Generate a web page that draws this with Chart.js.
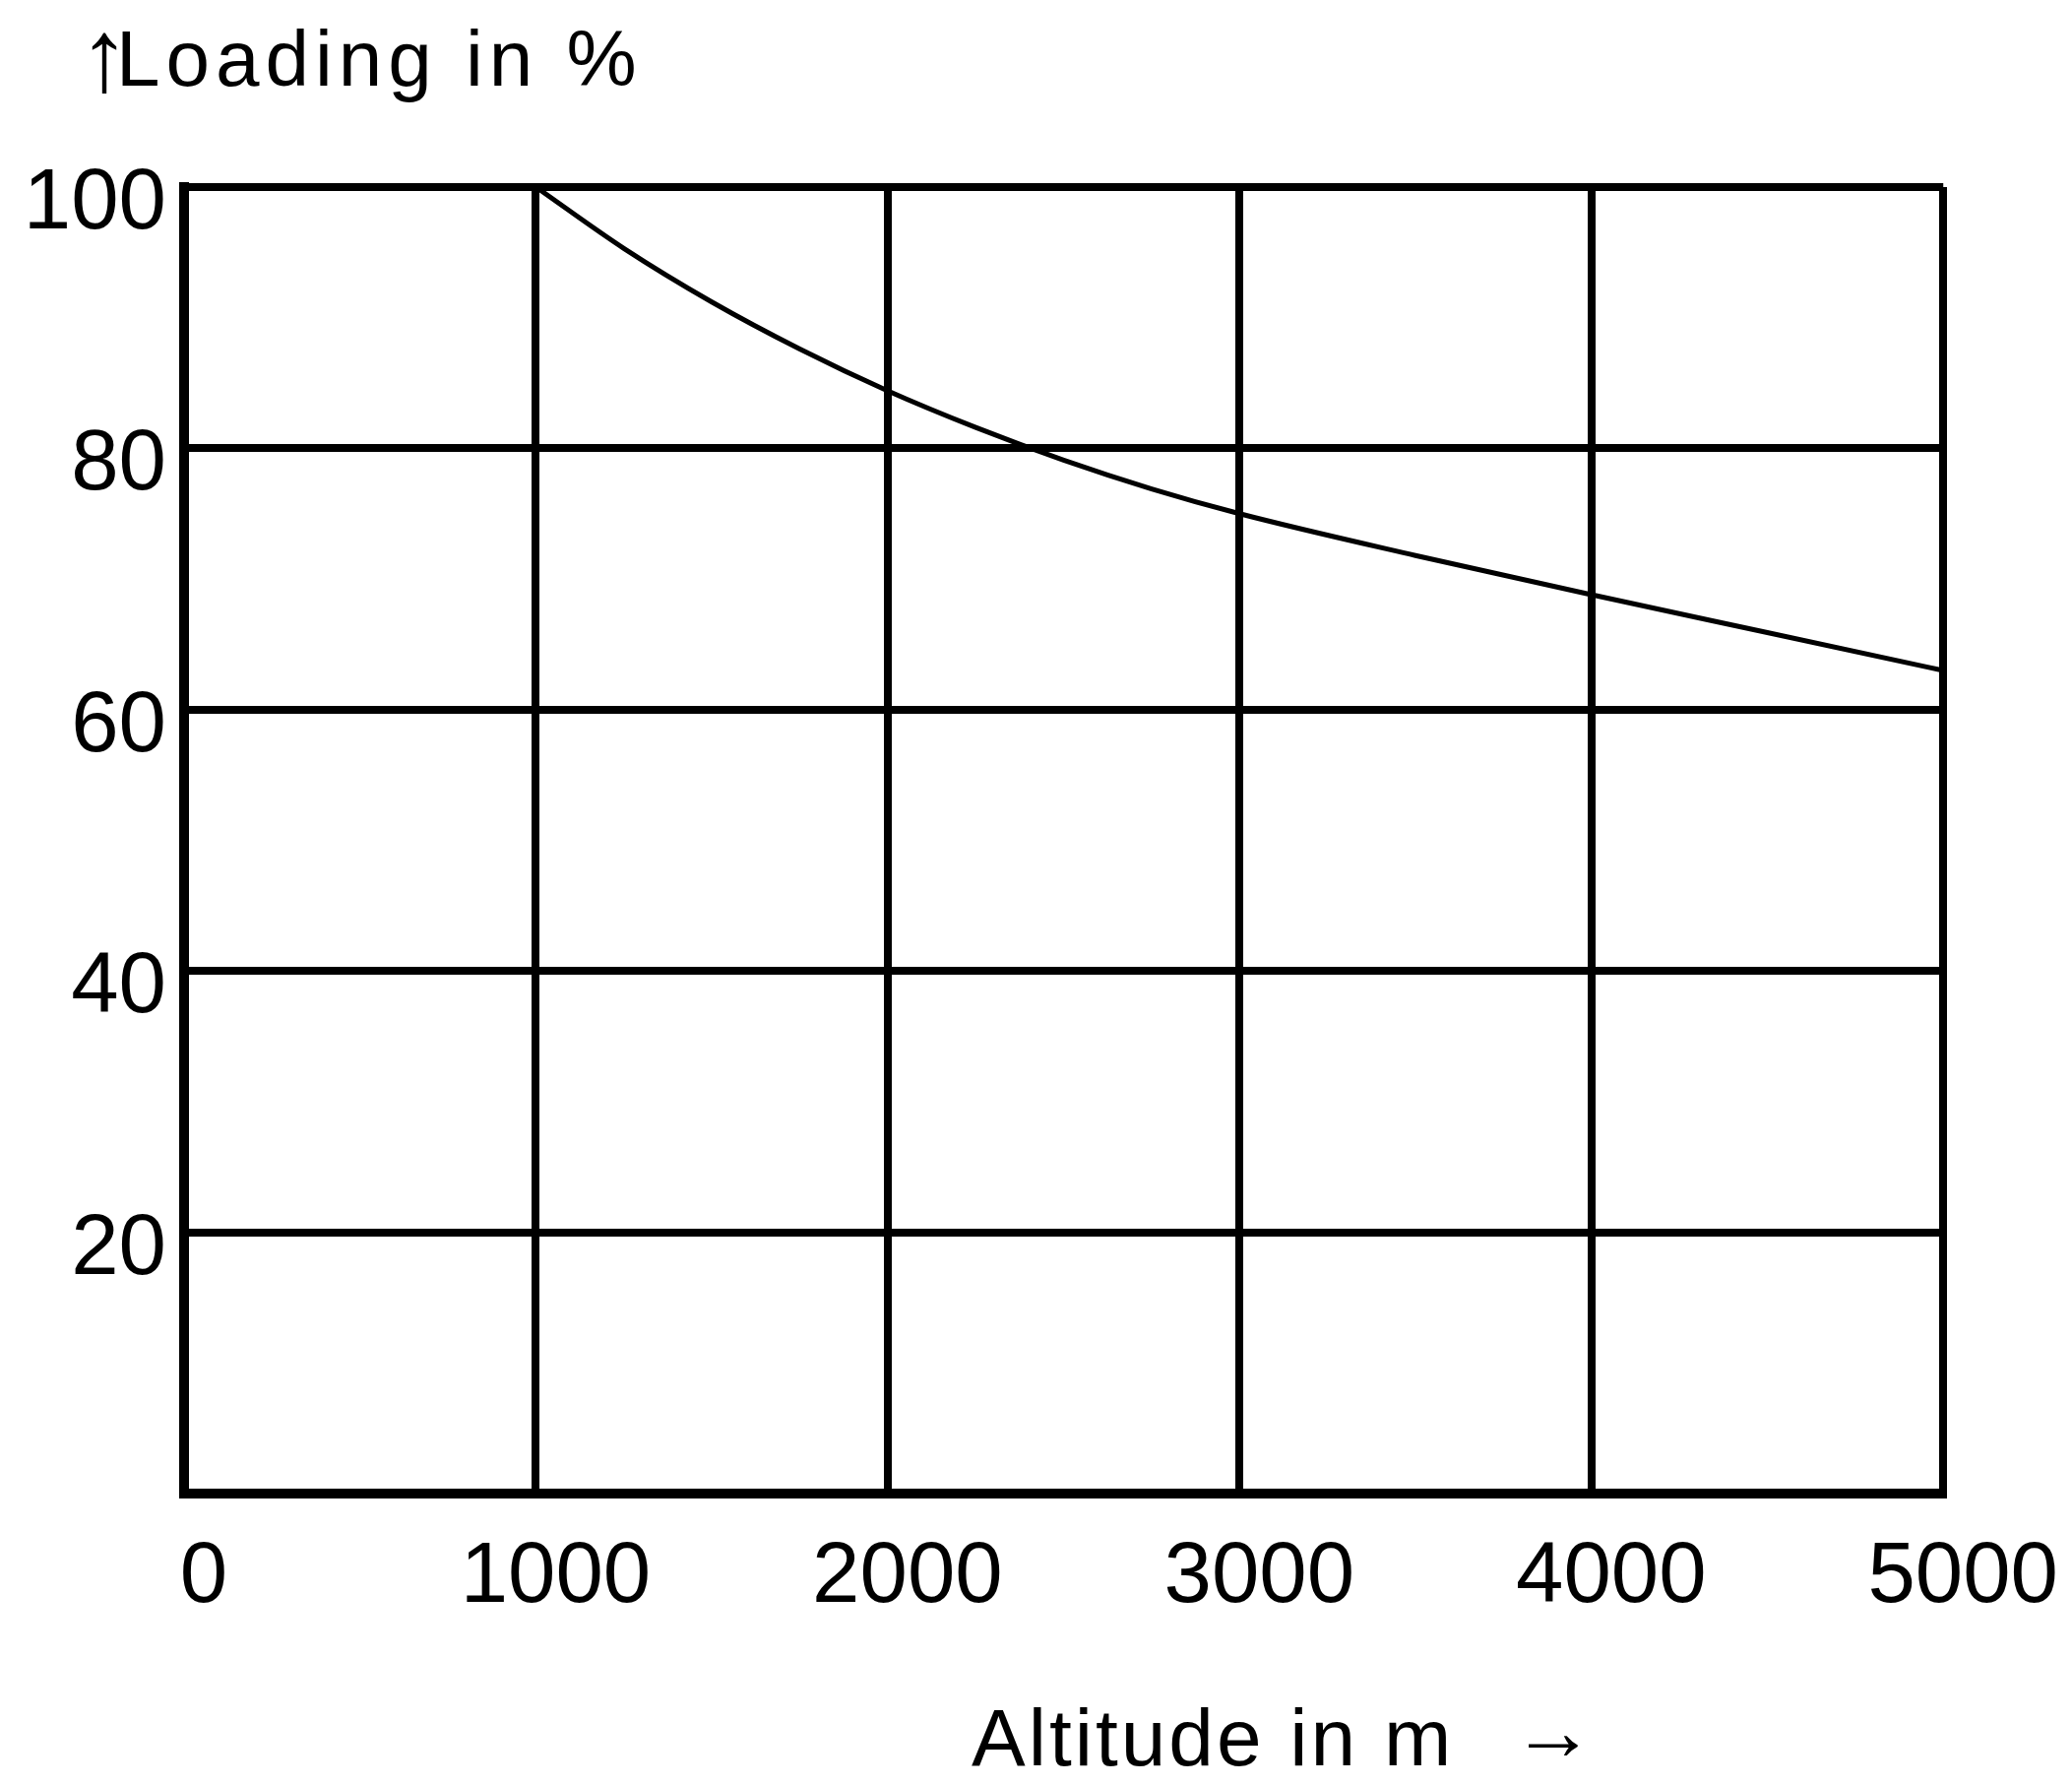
<!DOCTYPE html>
<html>
<head>
<meta charset="utf-8">
<script src="https://cdn.jsdelivr.net/npm/chart.js@4"></script>
<style>
  html, body { margin: 0; padding: 0; background: #ffffff; }
  #wrap { width: 2105px; height: 1813px; position: relative; }
</style>
</head>
<body>
<div id="wrap"><canvas id="c" width="2105" height="1813"></canvas></div>
<script>
// ---- data ----
const altitudes = [1000, 1250, 1500, 1750, 2000, 2250, 2500, 2750, 3000, 3500, 4000, 4500, 5000];
const loading   = [100, 95.3, 91.2, 87.6, 84.4, 81.6, 79.1, 76.9, 75.0, 71.8, 68.8, 65.9, 63.0];
const xTicks = [0, 1000, 2000, 3000, 4000, 5000];
const yTicks = [20, 40, 60, 80, 100];
const yArrow = '\u2191';
const yTitle = 'Loading in %';
const xTitle = 'Altitude in m';
const xArrow = '\u2192';

// ---- layout ----
const AREA = { left: 187, right: 1975, top: 190, bottom: 1517 };
const W = 2105, H = 1813;
const FONT = '"Liberation Sans", Arial, Helvetica, sans-serif';

const points = altitudes.map((a, i) => ({ x: a, y: loading[i] }));

const captions = {
  id: 'captions',
  afterDraw(chart) {
    const ctx = chart.ctx;
    ctx.save();
    ctx.fillStyle = '#000';
    ctx.textBaseline = 'alphabetic';
    ctx.textAlign = 'left';
    // top-left axis caption
    ctx.font = 'bold 104px ' + FONT;
    ctx.fillText(yArrow, 80, 92);
    ctx.font = '80px ' + FONT;
    if ('letterSpacing' in ctx) ctx.letterSpacing = '6px';
    ctx.fillText(yTitle, 118, 87);
    // bottom axis caption
    ctx.font = '82px ' + FONT;
    if ('letterSpacing' in ctx) ctx.letterSpacing = '3px';
    ctx.fillText(xTitle, 987, 1793);
    if ('letterSpacing' in ctx) ctx.letterSpacing = '0px';
    ctx.font = 'bold 84px ' + FONT;
    ctx.fillText(xArrow, 1536, 1787);
    ctx.restore();
  }
};

const gridWidth = 8;

new Chart(document.getElementById('c'), {
  type: 'line',
  data: {
    datasets: [{
      data: points,
      borderColor: '#000',
      borderWidth: 5,
      pointRadius: 0,
      fill: false,
      cubicInterpolationMode: 'monotone'
    }]
  },
  options: {
    responsive: false,
    animation: false,
    devicePixelRatio: 1,
    layout: { padding: { left: 0, right: W - AREA.right, top: AREA.top, bottom: 0 } },
    plugins: { legend: { display: false }, tooltip: { enabled: false }, title: { display: false } },
    scales: {
      x: {
        type: 'linear',
        min: 0, max: 5000,
        afterFit(scale) { scale.height = H - AREA.bottom; },
        afterBuildTicks(scale) { scale.ticks = xTicks.map(v => ({ value: v })); },
        grid: { color: '#000', lineWidth: gridWidth, drawTicks: false },
        border: { display: true, color: '#000', width: 10 },
        ticks: {
          color: '#000',
          font: { family: FONT, size: 87 },
          padding: 34,
          labelOffset: 20,
          maxRotation: 0,
          autoSkip: false,
          callback: (v) => String(v)
        }
      },
      y: {
        type: 'linear',
        min: 0, max: 100,
        afterFit(scale) { scale.width = AREA.left; },
        afterBuildTicks(scale) { scale.ticks = [0].concat(yTicks).map(v => ({ value: v })); },
        grid: { color: '#000', lineWidth: gridWidth, drawTicks: false },
        border: { display: true, color: '#000', width: 10 },
        ticks: {
          color: '#000',
          font: { family: FONT, size: 87 },
          padding: 18,
          labelOffset: 18,
          autoSkip: false,
          callback: (v) => (v === 0 ? '' : String(v))
        }
      }
    }
  },
  plugins: [captions]
});
</script>
</body>
</html>
